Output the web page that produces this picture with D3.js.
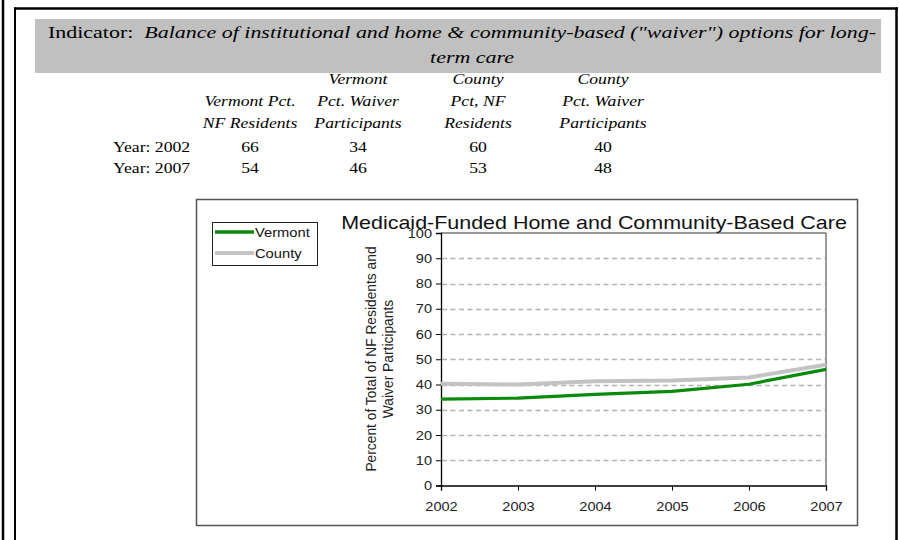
<!DOCTYPE html>
<html>
<head>
<meta charset="utf-8">
<script src="https://cdn.jsdelivr.net/npm/d3@7"></script>
<style>
  html, body { margin: 0; padding: 0; background: #fff; }
  svg { display: block; }
</style>
</head>
<body>
<svg id="chart" width="899" height="540"></svg>
<script>
// ---------- data ----------
const indicatorLabel = "Indicator:";
const indicatorLine1 = "Balance of institutional and home & community-based (\"waiver\") options for long-";
const indicatorLine2 = "term care";

const tableHeaders = [
  ["Vermont Pct.", "NF Residents"],
  ["Vermont", "Pct. Waiver", "Participants"],
  ["County", "Pct, NF", "Residents"],
  ["County", "Pct. Waiver", "Participants"]
];
const tableRowLabels = ["Year: 2002", "Year: 2007"];
const tableRow2002 = [66, 34, 60, 40];
const tableRow2007 = [54, 46, 53, 48];

const chartTitle = "Medicaid-Funded Home and Community-Based Care";
const yAxisTitle = ["Percent of Total of NF Residents and", "Waiver Participants"];
const years = [2002, 2003, 2004, 2005, 2006, 2007];
const vermont = [34.2, 34.6, 36.1, 37.3, 40.1, 46.0];
const county = [40.3, 40.0, 41.3, 41.6, 42.8, 47.8];
const yTicks = [0, 10, 20, 30, 40, 50, 60, 70, 80, 90, 100];
const seriesNames = ["Vermont", "County"];

// ---------- drawing ----------
const svg = d3.select("#chart");
const serif = "'Liberation Serif', 'Times New Roman', serif";
const sans = "'Liberation Sans', Arial, sans-serif";

// text stretched horizontally about its anchor point
function stretchedText(parent, px, py, sx, txt, opts) {
  const g = parent.append("g").attr("transform", `translate(${px},${py}) scale(${sx},1)`);
  const t = g.append("text").attr("x", 0).attr("y", 0)
    .attr("font-family", opts.family).attr("font-size", opts.size)
    .attr("fill", opts.fill || "#000")
    .attr("text-anchor", opts.anchor || "start");
  if (opts.italic) t.attr("font-style", "italic");
  if (txt !== null) t.text(txt);
  return t;
}

// page frame
svg.append("line").attr("x1", 3).attr("x2", 3).attr("y1", 0).attr("y2", 540)
  .attr("stroke", "#000").attr("stroke-width", 2.5);
svg.append("line").attr("x1", 15).attr("x2", 15).attr("y1", 7.5).attr("y2", 540)
  .attr("stroke", "#000").attr("stroke-width", 2);
svg.append("line").attr("x1", 14).attr("x2", 898).attr("y1", 8.5).attr("y2", 8.5)
  .attr("stroke", "#000").attr("stroke-width", 2.5);
svg.append("line").attr("x1", 896.5).attr("x2", 896.5).attr("y1", 7.5).attr("y2", 540)
  .attr("stroke", "#000").attr("stroke-width", 2.5);

// indicator band
svg.append("rect").attr("x", 35).attr("y", 19).attr("width", 846).attr("height", 54)
  .attr("fill", "#c0c0c0");
const l1 = stretchedText(svg, 48, 38, 1, null, { family: serif, size: 17 });
l1.append("tspan").text(indicatorLabel + "\u00a0\u00a0");
l1.append("tspan").attr("font-style", "italic").text(indicatorLine1);
const bandSx = 829 / l1.node().getComputedTextLength();
d3.select(l1.node().parentNode).attr("transform", `translate(48,38) scale(${bandSx},1)`);
stretchedText(svg, 472, 63, bandSx, indicatorLine2,
  { family: serif, size: 17, italic: true, anchor: "middle" });

// table
const tSx = 1.14, tSize = 15.5;
const colX = [250, 358, 478, 603];
const headerBaselines = [84, 106, 128];
tableHeaders.forEach((lines, i) => {
  const start = 3 - lines.length;
  lines.forEach((t, j) => {
    stretchedText(svg, colX[i], headerBaselines[start + j], tSx, t,
      { family: serif, size: tSize, italic: true, anchor: "middle" });
  });
});
const rowBaselines = [152, 173];
[tableRow2002, tableRow2007].forEach((row, r) => {
  stretchedText(svg, 113, rowBaselines[r], tSx, tableRowLabels[r], { family: serif, size: tSize });
  row.forEach((v, i) => {
    stretchedText(svg, colX[i], rowBaselines[r], tSx, v,
      { family: serif, size: tSize, anchor: "middle" });
  });
});

// chart box
svg.append("rect").attr("x", 196.5).attr("y", 199.5).attr("width", 661).attr("height", 326)
  .attr("fill", "#fff").attr("stroke", "#555").attr("stroke-width", 1.5);

// scales
const x = d3.scalePoint().domain(years).range([441, 826]);
const y = d3.scaleLinear().domain([0, 100]).range([485.5, 233]);

// gridlines
svg.append("g").selectAll("line").data(yTicks.filter(d => d > 0 && d < 100)).join("line")
  .attr("x1", 442).attr("x2", 825).attr("y1", d => Math.round(y(d)) + 0.5).attr("y2", d => Math.round(y(d)) + 0.5)
  .attr("stroke", "#b3b3b3").attr("stroke-width", 1.3).attr("stroke-dasharray", "5,3.5");

// plot border (top & right)
svg.append("path")
  .attr("d", `M${x(2002)},${y(100)}H${x(2007)}V${y(0)}`)
  .attr("fill", "none").attr("stroke", "#333").attr("stroke-width", 1);

// axes
const cSx = 1.12;
const yAxis = d3.axisLeft(y).tickValues(yTicks).tickSize(5).tickPadding(4);
const gy = svg.append("g").attr("transform", `translate(${x(2002)},0)`).call(yAxis);
const xAxis = d3.axisBottom(x).tickSize(5).tickPadding(8).tickFormat(d3.format("d"));
const gx = svg.append("g").attr("transform", `translate(0,${y(0)})`).call(xAxis);
[gx, gy].forEach(g => {
  g.select(".domain").attr("stroke", "#000").attr("stroke-width", 1.3);
  g.selectAll(".tick line").attr("stroke", "#000").attr("stroke-width", 1);
  g.selectAll(".tick text").attr("font-family", sans).attr("font-size", 13).attr("fill", "#222")
    .each(function () {
      const el = d3.select(this);
      const xv = +el.attr("x") || 0;
      el.attr("x", xv / cSx).attr("transform", `scale(${cSx},1)`);
    });
});
gx.selectAll(".tick text").attr("dy", "0.95em");

// series
const line = d3.line().x((d, i) => x(years[i])).y(d => y(d));
svg.append("path").datum(county).attr("d", line).attr("fill", "none")
  .attr("stroke", "#c3c3c3").attr("stroke-width", 4).attr("stroke-linejoin", "round");
svg.append("path").datum(vermont).attr("d", line).attr("fill", "none")
  .attr("stroke", "#0a8a0a").attr("stroke-width", 3.2).attr("stroke-linejoin", "round");

// title
const titleT = stretchedText(svg, 594, 229, 1, chartTitle,
  { family: sans, size: 18, anchor: "middle", fill: "#111" });
const titleSx = 506 / titleT.node().getComputedTextLength();
d3.select(titleT.node().parentNode).attr("transform", `translate(594,229) scale(${titleSx},1)`);

// y-axis title
const ytx = [376, 393];
yAxisTitle.forEach((t, i) => {
  svg.append("text").attr("transform", `translate(${ytx[i]},359) rotate(-90)`)
    .attr("text-anchor", "middle").attr("font-family", sans).attr("font-size", 13.8)
    .attr("fill", "#222").text(t);
});

// legend
svg.append("rect").attr("x", 212.5).attr("y", 222.5).attr("width", 105).attr("height", 43)
  .attr("fill", "#fff").attr("stroke", "#222").attr("stroke-width", 1);
const legColors = ["#0a8a0a", "#c3c3c3"];
const legWidths = [3.5, 4];
const legY = [232, 253];
seriesNames.forEach((n, i) => {
  svg.append("line").attr("x1", 215).attr("x2", 254).attr("y1", legY[i]).attr("y2", legY[i])
    .attr("stroke", legColors[i]).attr("stroke-width", legWidths[i]);
  stretchedText(svg, 255, legY[i] + 4.5, 1.15, n, { family: sans, size: 12.8, fill: "#111" });
});
</script>
</body>
</html>
